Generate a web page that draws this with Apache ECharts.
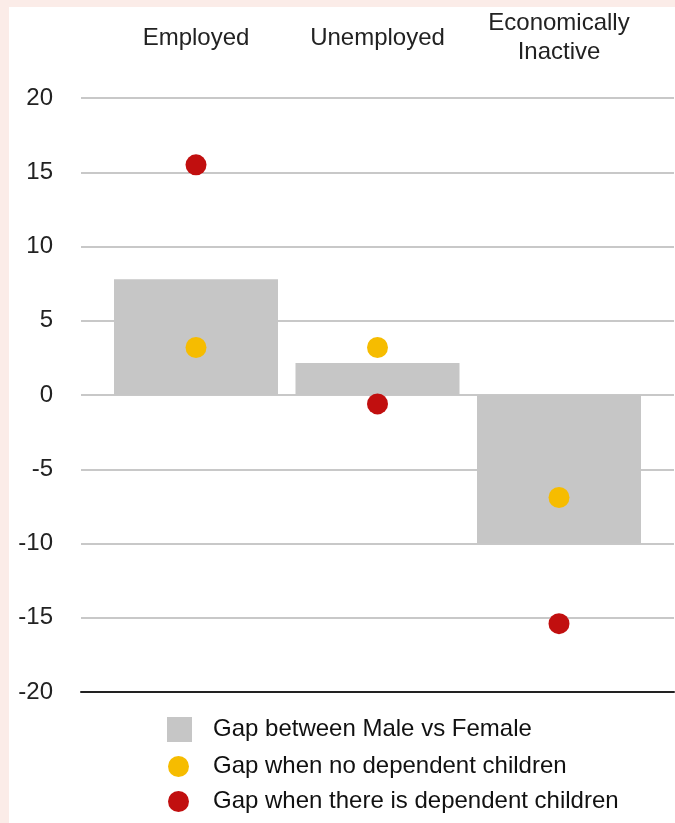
<!DOCTYPE html>
<html>
<head>
<meta charset="utf-8">
<script src="https://cdn.jsdelivr.net/npm/echarts@6/dist/echarts.min.js"></script>
<style>
  html, body { margin: 0; padding: 0; background: #fbece8; }
  #chart { position: absolute; left: 9px; top: 7px; width: 666px; height: 816px; background: #fff; }
</style>
</head>
<body>
<div id="chart"></div>
<script>
const categories = ['Employed', 'Unemployed', 'Economically\nInactive']
const gapMaleFemale = [7.8, 2.15, -10]
const gapNoChildren = [3.2, 3.2, -6.9]
const gapWithChildren = [15.5, -0.6, -15.4]
const yMin = -20
const yMax = 20
const yStep = 5

const seriesNames = [
  'Gap between Male vs Female',
  'Gap when no dependent children',
  'Gap when there is dependent children'
]

const font = "'Liberation Sans', Arial, Helvetica, sans-serif"
const gridTop = 91
const gridBottom = 131

const chart = echarts.init(document.getElementById('chart'))

const legendText = { fontSize: 24, color: '#111', fontFamily: font }

const option = {
  animation: false,
  textStyle: { fontFamily: font },
  grid: [
    { left: 72, right: 1, top: gridTop, bottom: gridBottom },
    { left: 96.25, right: 25.25, top: gridTop, bottom: gridBottom }
  ],
  xAxis: [
    {
      gridIndex: 0,
      type: 'category',
      data: [''],
      position: 'bottom',
      axisLine: { show: true, onZero: false, lineStyle: { color: '#222', width: 2 } },
      axisTick: { show: false },
      axisLabel: { show: false }
    },
    {
      gridIndex: 1,
      type: 'category',
      data: categories,
      position: 'top',
      axisLine: { show: false, onZero: false },
      axisTick: { show: false },
      axisLabel: {
        interval: 0,
        fontSize: 24,
        color: '#222',
        margin: 60,
        verticalAlign: 'middle',
        lineHeight: 29,
        fontFamily: font
      }
    }
  ],
  yAxis: [
    {
      gridIndex: 0,
      type: 'value',
      min: yMin,
      max: yMax,
      interval: yStep,
      axisLine: { show: false },
      axisTick: { show: false },
      axisLabel: { fontSize: 24, color: '#222', margin: 28, fontFamily: font },
      splitLine: { lineStyle: { color: '#c8c8c8', width: 2 } }
    },
    {
      gridIndex: 1,
      type: 'value',
      min: yMin,
      max: yMax,
      interval: yStep,
      show: false,
      splitLine: { show: false }
    }
  ],
  legend: [
    {
      data: [{ name: seriesNames[0], icon: 'rect' }],
      left: 153, top: 705,
      itemWidth: 25, itemHeight: 25,
      textStyle: Object.assign({ padding: [0, 0, 0, 16] }, legendText)
    },
    {
      data: [{ name: seriesNames[1], icon: 'circle' }],
      left: 154, top: 742.5,
      itemWidth: 21, itemHeight: 21,
      textStyle: Object.assign({ padding: [0, 0, 0, 19] }, legendText)
    },
    {
      data: [{ name: seriesNames[2], icon: 'circle' }],
      left: 154, top: 777.5,
      itemWidth: 21, itemHeight: 21,
      textStyle: Object.assign({ padding: [0, 0, 0, 19] }, legendText)
    }
  ],
  series: [
    {
      name: seriesNames[0],
      type: 'bar',
      xAxisIndex: 1,
      yAxisIndex: 1,
      data: gapMaleFemale,
      barWidth: 164,
      itemStyle: { color: '#c6c6c6' },
      z: 2
    },
    {
      name: seriesNames[1],
      type: 'scatter',
      xAxisIndex: 1,
      yAxisIndex: 1,
      data: gapNoChildren,
      symbolSize: 21,
      itemStyle: { color: '#f6bc00', opacity: 1 },
      z: 3
    },
    {
      name: seriesNames[2],
      type: 'scatter',
      xAxisIndex: 1,
      yAxisIndex: 1,
      data: gapWithChildren,
      symbolSize: 21,
      itemStyle: { color: '#c10f0f', opacity: 1 },
      z: 3
    }
  ]
}

chart.setOption(option)
</script>
</body>
</html>
